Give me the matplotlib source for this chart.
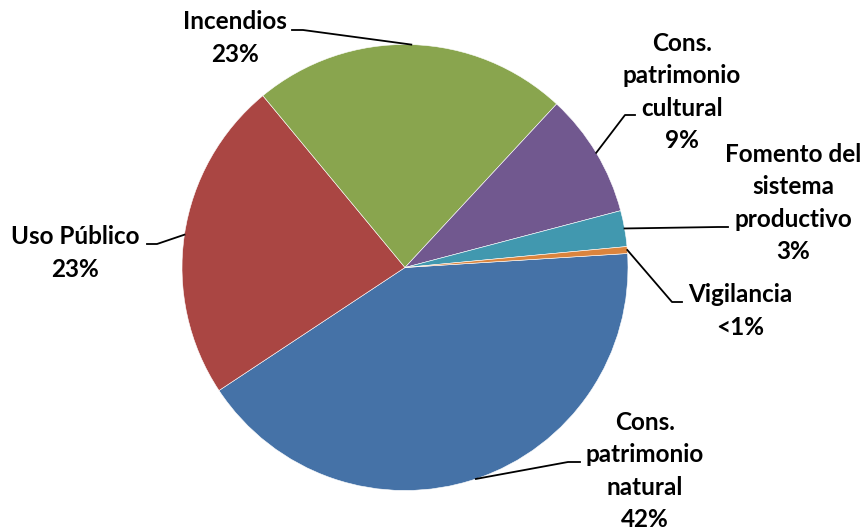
import numpy as np
import matplotlib
matplotlib.use("Agg")
import matplotlib.pyplot as plt

plt.rcParams["font.family"] = ["Lato", "DejaVu Sans"]

# datos del gráfico
categorias = [
    "Cons.\npatrimonio\nnatural",
    "Uso Público",
    "Incendios",
    "Cons.\npatrimonio\ncultural",
    "Fomento del\nsistema\nproductivo",
    "Vigilancia",
]
valores = [41.7, 23.3, 22.9, 9.0, 2.6, 0.5]
colores = ["#4572A7", "#AA4643", "#89A54E", "#71588F", "#4198AF", "#DB843D"]

# posiciones de etiquetas en píxeles (x, y desde arriba): texto, codo, fin de la guía
pos_texto = [(645, 471), (75, 253), (235, 38), (682, 92), (793, 203), (740, 311)]
pos_codo = [(568, 462), (157, 244), (303, 30), (625, 115), (718, 227), (672, 302)]
pos_fin = [(580, 462), (147, 244), (292, 30), (635, 115), (728, 227), (682, 302)]

W, H = 865, 532
fig = plt.figure(figsize=(W / 100, H / 100), dpi=100)
ax = fig.add_axes([0, 0, 1, 1])

cx, cy, r = 405, H - 267.5, 223
wedges, _ = ax.pie(
    valores,
    colors=colores,
    startangle=3.6,
    counterclock=False,
    center=(cx, cy),
    radius=r,
    frame=True,
    wedgeprops=dict(edgecolor="white", linewidth=0.4),
)

total = sum(valores)
for w, cat, v, pt, pc, pf in zip(wedges, categorias, valores, pos_texto, pos_codo, pos_fin):
    pct = v / total * 100
    txt = "<1%" if pct < 1 else "{:.0f}%".format(pct)
    ang = np.deg2rad((w.theta1 + w.theta2) / 2)
    x0 = cx + r * np.cos(ang)
    y0 = cy + r * np.sin(ang)
    ax.plot([x0, pc[0], pf[0]], [y0, H - pc[1], H - pf[1]], color="black", lw=1.3)
    ax.text(pt[0], H - pt[1], cat + "\n" + txt, ha="center", va="center",
            fontsize=17.5, fontweight="bold", linespacing=1.5)

ax.set_xlim(0, W)
ax.set_ylim(0, H)
ax.set_aspect("equal")
ax.axis("off")

fig.savefig("out.png", dpi=100)
